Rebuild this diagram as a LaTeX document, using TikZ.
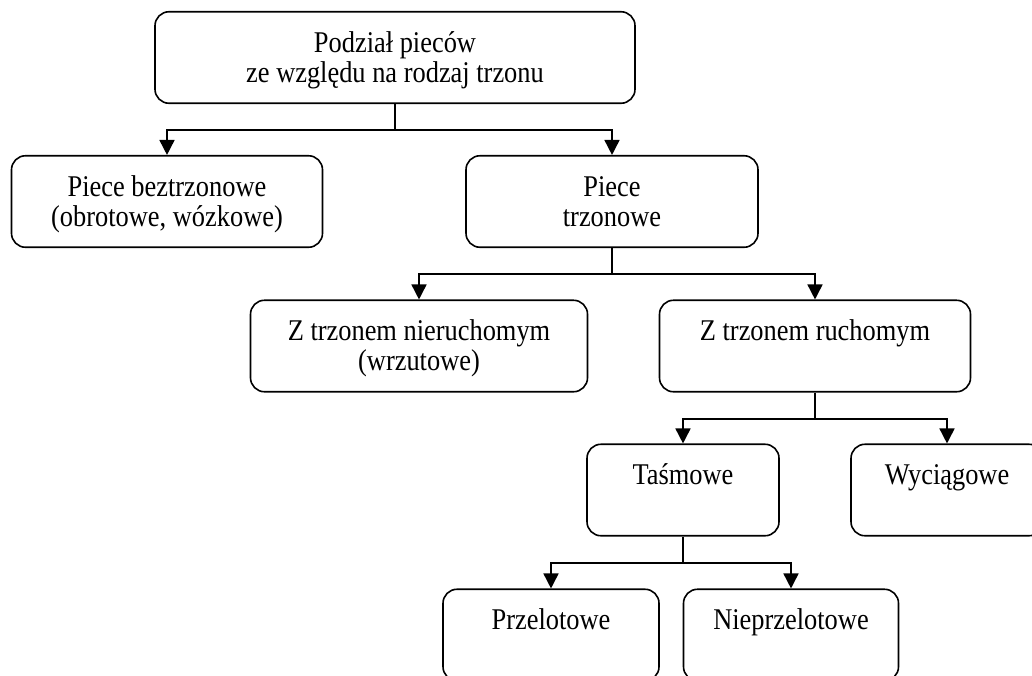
\documentclass[tikz,border=0pt]{standalone}
\usepackage{fontspec}
\setmainfont{Liberation Serif}
\usetikzlibrary{arrows.meta}
\newcommand\stretchtxt[1]{\scalebox{1}[1.14]{#1}}
\newcommand\topstrut{\rule{0pt}{24pt}}
\tikzset{
  box/.style={draw, line width=1.6pt, rounded corners=14pt, inner sep=0pt, minimum height=91.5pt},
  txt/.style={anchor=north, align=center, inner sep=0pt, yshift=-17pt,
    font=\fontsize{26.4}{30}\selectfont},
  conn/.style={line width=1.6pt},
  arr/.style={line width=1.6pt, -{Triangle[length=15pt,width=15pt]}}
}
\begin{document}
\begin{tikzpicture}[x=1pt,y=-1pt]
\useasboundingbox (0,0) rectangle (1032,675);
\clip (0,0) rectangle (1032,675);
% boxes
\node[box, minimum width=480pt] (top) at (395,57.5) {};
\node[box, minimum width=311pt] (bez) at (167,201.5) {};
\node[box, minimum width=292pt] (trz) at (612,201.5) {};
\node[box, minimum width=337pt] (nier) at (419,346) {};
\node[box, minimum width=311pt] (ruch) at (815,346) {};
\node[box, minimum width=192pt] (tas) at (683,490) {};
\node[box, minimum width=192pt] (wyc) at (947,490) {};
\node[box, minimum width=216pt] (prz) at (551,635) {};
\node[box, minimum width=215pt] (niep) at (791,635) {};
% texts
\node[txt] (ttop) at (top.north) {\topstrut\stretchtxt{Podział pieców}\\\stretchtxt{ze względu na rodzaj trzonu}};
\node[txt] (tbez) at (bez.north) {\topstrut\stretchtxt{Piece beztrzonowe}\\\stretchtxt{(obrotowe, wózkowe)}};
\node[txt] (ttrz) at (trz.north) {\topstrut\stretchtxt{Piece}\\\stretchtxt{trzonowe}};
\node[txt] (tnier) at (nier.north) {\topstrut\stretchtxt{Z trzonem nieruchomym}\\\stretchtxt{(wrzutowe)}};
\node[txt] (truch) at (ruch.north) {\topstrut\stretchtxt{Z trzonem ruchomym}};
\node[txt] (ttas) at (tas.north) {\topstrut\stretchtxt{Taśmowe}};
\node[txt] (twyc) at (wyc.north) {\topstrut\stretchtxt{Wyciągowe}};
\node[txt] (tprz) at (prz.north) {\topstrut\stretchtxt{Przelotowe}};
\node[txt] (tniep) at (niep.north) {\topstrut\stretchtxt{Nieprzelotowe}};
% junctions
\coordinate (j1) at (395,130);
\coordinate (j2) at (612,274);
\coordinate (j3) at (815,419);
\coordinate (j4) at (683,563);
% connectors
\draw[conn] (top.south) -- (j1);
\draw[arr] (j1) -| (bez.north);
\draw[arr] (j1) -| (trz.north);
\draw[conn] (trz.south) -- (j2);
\draw[arr] (j2) -| (nier.north);
\draw[arr] (j2) -| (ruch.north);
\draw[conn] (ruch.south) -- (j3);
\draw[arr] (j3) -| (tas.north);
\draw[arr] (j3) -| (wyc.north);
\draw[conn] (tas.south) -- (j4);
\draw[arr] (j4) -| (prz.north);
\draw[arr] (j4) -| (niep.north);
\end{tikzpicture}
\end{document}
